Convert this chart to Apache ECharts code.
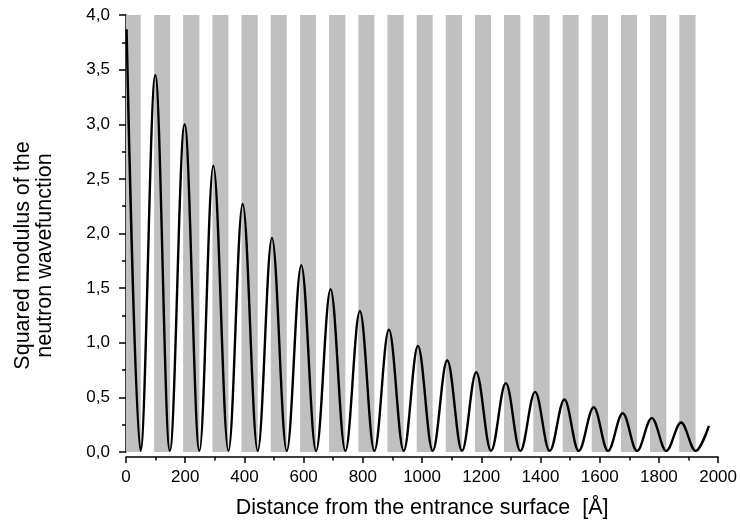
<!DOCTYPE html>
<html>
<head>
<meta charset="utf-8">
<script src="https://cdn.jsdelivr.net/npm/echarts@6/dist/echarts.min.js"></script>
<style>
html, body { margin: 0; padding: 0; background: #fff; }
#chart { width: 740px; height: 527px; }
</style>
</head>
<body>
<div id="chart"></div>
<script>
// maxima and minima of the squared modulus (x in Å)
var peakX = [2, 99, 198, 295, 394, 493, 592, 691, 790, 888, 986, 1085, 1183, 1283, 1382, 1481, 1580, 1678, 1776, 1875];
var peakY = [3.87, 3.45, 3.00, 2.62, 2.27, 1.96, 1.71, 1.49, 1.29, 1.12, 0.97, 0.84, 0.73, 0.63, 0.55, 0.48, 0.41, 0.355, 0.31, 0.27];
var troughX = [49, 148, 248, 346, 445, 543, 642, 741, 839, 938, 1036, 1135, 1233, 1332, 1431, 1529, 1628, 1726, 1825, 1924];
var troughY = [0.01, 0.01, 0.01, 0.01, 0.01, 0.01, 0.01, 0.01, 0.01, 0.01, 0.01, 0.01, 0.01, 0.01, 0.01, 0.01, 0.01, 0.01, 0.01, 0.01];
var lastPoint = [1969, 0.24];

// grey layers of the multilayer
var bandStart = [0, 95, 193, 292, 390, 489, 588, 686, 785, 883, 982, 1080, 1179, 1277, 1376, 1475, 1573, 1672, 1770, 1869];
var bandEnd = [50, 149, 248, 346, 445, 543, 642, 741, 839, 938, 1036, 1135, 1233, 1332, 1431, 1529, 1628, 1726, 1825, 1924];

var xTicks = [0, 200, 400, 600, 800, 1000, 1200, 1400, 1600, 1800, 2000];

var points = [];
for (var i = 0; i < peakX.length; i++) {
	points.push([peakX[i], peakY[i]]);
	points.push([troughX[i], troughY[i]]);
}
points.push(lastPoint);

var bands = [];
for (var j = 0; j < bandStart.length; j++) {
	bands.push([{ xAxis: bandStart[j] }, { xAxis: bandEnd[j] }]);
}

var font = 'Liberation Sans, Arial, sans-serif';
var chart = echarts.init(document.getElementById('chart'));

chart.setOption({
	animation: false,
	grid: { left: 126, right: 19, top: 15, bottom: 75 },
	xAxis: {
		type: 'value',
		min: xTicks[0],
		max: xTicks[xTicks.length - 1],
		interval: 200,
		offset: 5,
		name: 'Distance from the entrance surface  [Å]',
		nameLocation: 'middle',
		nameGap: 40,
		nameTextStyle: { color: '#000', fontSize: 21.5, fontFamily: font },
		axisLine: { onZero: false, lineStyle: { color: '#000', width: 1.5 } },
		axisTick: { length: 6, lineStyle: { color: '#000', width: 1.5 } },
		minorTick: { show: true, splitNumber: 2, length: 3.5, lineStyle: { color: '#000', width: 1.5 } },
		splitLine: { show: false },
		axisLabel: {
			color: '#000', fontSize: 17, fontFamily: font, margin: 12,
			formatter: function (v) { return String(v); }
		}
	},
	yAxis: {
		type: 'value',
		min: 0,
		max: 4,
		interval: 0.5,
		name: 'Squared modulus of the\nneutron wavefunction',
		nameLocation: 'middle',
		nameGap: 70,
		nameTextStyle: { color: '#000', fontSize: 21.5, fontFamily: font, lineHeight: 22, padding: [0, 44, 0, 0] },
		axisLine: { lineStyle: { color: '#000', width: 1.5 } },
		axisTick: { length: 7, lineStyle: { color: '#000', width: 1.5 } },
		minorTick: { show: true, splitNumber: 2, length: 4, lineStyle: { color: '#000', width: 1.5 } },
		splitLine: { show: false },
		axisLabel: {
			color: '#000', fontSize: 17, fontFamily: font, margin: 16,
			formatter: function (v) { return v.toFixed(1).replace('.', ','); }
		}
	},
	series: [{
		type: 'line',
		z: 1,
		data: [],
		markArea: { silent: true, itemStyle: { color: '#c0c0c0' }, data: bands }
	}, {
		type: 'line',
		z: 3,
		data: points,
		smooth: 0.36,
		smoothMonotone: 'x',
		showSymbol: false,
		lineStyle: { color: '#000', width: 2.4 }
	}]
});
</script>
</body>
</html>
